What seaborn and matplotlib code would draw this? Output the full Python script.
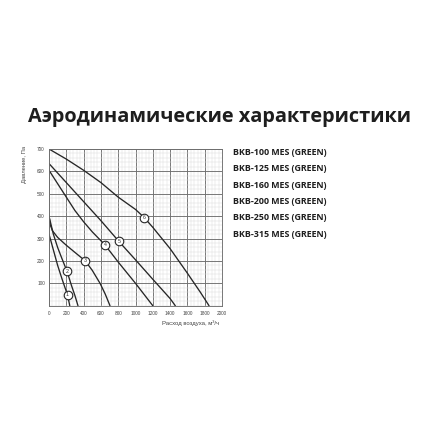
import matplotlib
matplotlib.use("Agg")
import matplotlib.pyplot as plt
import seaborn as sns
import pandas as pd
from matplotlib.ticker import MultipleLocator

# ---------------- data ----------------
title = "Аэродинамические характеристики"
x_label = "Расход воздуха, м³/ч"
y_label = "Давление, Па"
models = ["BKB-100 MES (GREEN)", "BKB-125 MES (GREEN)", "BKB-160 MES (GREEN)",
          "BKB-200 MES (GREEN)", "BKB-250 MES (GREEN)", "BKB-315 MES (GREEN)"]
curve_ids = ["1", "2", "3", "4", "5", "6"]

c1_flow = [0, 50, 100, 150, 214, 240]
c1_pres = [320, 250, 180, 120, 48, 0]
c2_flow = [0, 50, 100, 150, 207, 260, 300, 335]
c2_pres = [400, 320, 260, 210, 155, 90, 45, 0]
c3_flow = [0, 15, 40, 100, 200, 300, 417, 500, 590, 650, 705]
c3_pres = [400, 360, 335, 305, 270, 238, 201, 158, 100, 52, 0]
c4_flow = [0, 100, 200, 300, 400, 500, 646, 800, 1000, 1100, 1200]
c4_pres = [605, 545, 485, 425, 375, 330, 272, 195, 100, 50, 0]
c5_flow = [0, 200, 400, 600, 808, 1000, 1200, 1400, 1460]
c5_pres = [635, 550, 465, 380, 287, 205, 118, 32, 0]
c6_flow = [0, 200, 400, 600, 800, 1000, 1100, 1200, 1400, 1600, 1750, 1850]
c6_pres = [700, 655, 605, 550, 485, 430, 394, 350, 255, 145, 60, 0]

label_flow = [214, 207, 417, 646, 808, 1100]
label_pres = [48, 155, 201, 272, 287, 394]

x_ticks = [0, 200, 400, 600, 800, 1000, 1200, 1400, 1600, 1800, 2000]
y_ticks = [100, 200, 300, 400, 500, 600, 700]

flows = [c1_flow, c2_flow, c3_flow, c4_flow, c5_flow, c6_flow]
pressures = [c1_pres, c2_pres, c3_pres, c4_pres, c5_pres, c6_pres]
frames = []
for cid, fx, py in zip(curve_ids, flows, pressures):
    frames.append(pd.DataFrame({"flow": fx, "pressure": py, "curve": cid}))
df = pd.concat(frames, ignore_index=True)

# ---------------- style ----------------
sns.set_style("white")
plt.rcParams['font.family'] = ['Liberation Sans', 'DejaVu Sans']

W = H = 440
fig = plt.figure(figsize=(4.4, 4.4), dpi=100)
ax = fig.add_axes([49 / W, 1 - 305.7 / H, (222 - 49) / W, (305.7 - 149) / H])

line_col = "#262626"
for cid in curve_ids:
    sns.lineplot(data=df[df["curve"] == cid], x="flow", y="pressure", ax=ax,
                 color=line_col, linewidth=0.95, sort=False, estimator=None)

ax.set_xlim(0, 2000)
ax.set_ylim(0, 700)
ax.set_xticks(x_ticks)
ax.set_yticks(y_ticks)
ax.xaxis.set_minor_locator(MultipleLocator(40))
ax.yaxis.set_minor_locator(MultipleLocator(20))
ax.grid(which="minor", color="#dcdcdc", linewidth=0.35)
ax.grid(which="major", color="#6e6e6e", linewidth=0.65)
ax.set_axisbelow(True)
for s in ax.spines.values():
    s.set_color("#6e6e6e")
    s.set_linewidth(0.65)
ax.tick_params(which="both", length=0, labelsize=3.4, labelcolor="#444444")
ax.tick_params(axis="x", pad=4)
ax.tick_params(axis="y", pad=3)
ax.set_xlabel("")
ax.set_ylabel("")

# numbered circles
ax.scatter(label_flow, label_pres, s=38, facecolor="white", edgecolor=line_col,
           linewidth=0.8, zorder=5)
for cid, fx, py in zip(curve_ids, label_flow, label_pres):
    ax.text(fx, py, cid, ha="center", va="center", fontsize=3.8,
            color="#333333", zorder=6)

# texts
fig.canvas.draw()
renderer = fig.canvas.get_renderer()

def fit(t, width_px):
    bb = t.get_window_extent(renderer)
    t.set_fontsize(t.get_fontsize() * width_px / bb.width)

t_title = fig.text(28 / W, 1 - 117 / H, title, ha="left", va="center",
                   fontsize=14, fontweight="bold", color="#1e1e1e",
                   family=["Open Sans", "DejaVu Sans"])
fit(t_title, 385)

t_x = fig.text(219.5 / W, 1 - 323 / H, x_label, ha="right", va="center",
               fontsize=4, color="#444444")
fit(t_x, 57)

t_y = fig.text(24 / W, 1 - 164 / H, y_label, ha="center", va="center",
               rotation=90, fontsize=4, color="#444444")
bb = t_y.get_window_extent(renderer)
t_y.set_fontsize(t_y.get_fontsize() * 36 / bb.height)

for i, m in enumerate(models):
    t = fig.text(233 / W, 1 - (152.5 + i * 16.3) / H, m, ha="left", va="center",
                 fontsize=5, fontweight="bold", color="#1e1e1e",
                 family=["Open Sans", "DejaVu Sans"])
    fit(t, 94)

fig.savefig("out.png", dpi=100, facecolor="white")
